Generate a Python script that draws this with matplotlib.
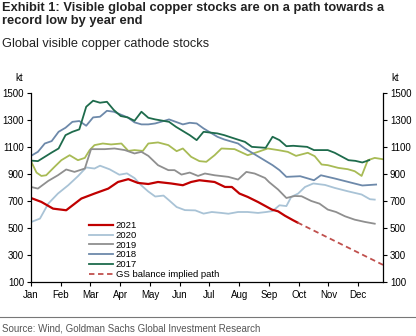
import matplotlib
matplotlib.use("Agg")
import matplotlib.pyplot as plt
import numpy as np

plt.rcParams['font.family'] = ['Liberation Sans', 'DejaVu Sans']

# week of year (0 = first week of Jan) and stocks in kt
wk_2021 = [0.0, 1.5, 3.2, 5.1, 7.3, 9.2, 11.2, 12.6, 14.1, 15.5, 17.0, 18.4, 20.3, 22.0,
           23.2, 24.4, 26.6, 28.1, 29.1, 30.2, 31.4, 32.9, 34.9, 35.8, 36.8, 38.0, 38.6]
kt_2021 = [722, 693, 643, 631, 718, 755, 792, 841, 862, 834, 826, 841, 830, 817,
           841, 854, 841, 804, 804, 755, 730, 692, 636, 623, 590, 556, 540]

wk_path = [38.6, 51.0]
kt_path = [540, 225]

wk_2020 = [0.0, 1.3, 2.5, 3.9, 5.4, 6.8, 8.0, 9.2, 10.0, 11.4, 12.8, 13.9, 15.0, 16.0,
           17.0, 18.0, 19.2, 20.0, 21.1, 22.3, 23.8, 25.0, 26.2, 27.6, 28.6, 30.0, 31.4,
           32.9, 34.1, 35.0, 36.0, 37.0, 37.7, 38.7, 39.7, 40.9, 42.6, 44.0, 45.9, 47.9,
           49.1, 49.8]
kt_2020 = [543, 569, 680, 755, 817, 884, 949, 941, 962, 935, 895, 905, 870, 815,
           770, 733, 740, 705, 655, 632, 630, 606, 618, 611, 605, 618, 618,
           611, 618, 625, 668, 662, 730, 755, 804, 830, 819, 797, 772, 748,
           713, 710]

wk_2019 = [0.0, 1.0, 2.5, 3.9, 5.1, 6.3, 7.8, 8.7, 10.7, 12.1, 13.6, 15.0, 16.0, 17.0,
           18.4, 19.9, 20.8, 21.8, 23.0, 24.2, 25.2, 26.6, 28.6, 30.0, 31.2, 32.4, 33.9,
           34.5, 35.8, 37.0, 38.2, 39.2, 40.6, 41.8, 43.0, 44.2, 45.5, 46.9, 48.4, 49.8]
kt_2019 = [804, 792, 849, 891, 934, 916, 941, 1085, 1085, 1090, 1078, 1053, 1065, 1035,
           966, 929, 929, 896, 911, 886, 904, 891, 879, 859, 916, 904, 871,
           840, 785, 722, 737, 735, 700, 680, 636, 618, 586, 561, 544, 531]

wk_2018 = [0, 1, 2, 3, 4, 5, 6, 7, 8, 9, 10, 11, 12, 14, 15, 16, 17, 18, 20, 22, 23, 24,
           25, 27, 28, 30, 31, 33, 35, 36, 37, 39, 41, 42, 44, 46, 48, 50]
kt_2018 = [1035, 1065, 1127, 1145, 1214, 1244, 1288, 1294, 1259, 1321, 1326, 1370, 1363,
           1321, 1284, 1269, 1269, 1276, 1306, 1269, 1281, 1276, 1239, 1177, 1157, 1127,
           1090, 1028, 966, 929, 879, 884, 854, 891, 867, 841, 815, 822]

wk_2017 = [0, 1, 3, 4, 5, 6, 7, 8, 9, 10, 11, 12, 13, 14, 15, 16, 17, 18, 20, 21, 23, 24,
           25, 27, 28, 29, 31, 32, 34, 35, 36, 37, 38, 40, 41, 43, 44, 46, 47, 48, 49]
kt_2017 = [1000, 996, 1060, 1090, 1189, 1214, 1232, 1400, 1445, 1430, 1437, 1376, 1331,
           1321, 1296, 1363, 1318, 1306, 1288, 1251, 1189, 1152, 1214, 1202, 1189, 1172,
           1139, 1102, 1095, 1177, 1152, 1107, 1110, 1102, 1078, 1078, 1058, 1003, 998,
           986, 1003]

wk_2016 = [0.0, 0.8, 1.5, 2.2, 3.4, 4.4, 5.6, 6.8, 7.8, 8.5, 9.2, 10.4, 11.6, 13.1, 14.1,
           15.0, 16.2, 17.0, 18.4, 19.9, 21.1, 22.0, 23.2, 24.4, 25.4, 26.6, 27.6, 29.5,
           31.4, 32.9, 34.3, 35.8, 37.2, 38.4, 40.1, 41.1, 42.1, 43.0, 44.5, 45.9, 46.9,
           47.9, 48.8, 49.8, 51.0]
kt_2016 = [996, 911, 886, 891, 953, 1003, 1040, 1003, 1020, 1078, 1115, 1127, 1120, 1127,
           1072, 1078, 1072, 1127, 1135, 1115, 1070, 1090, 1028, 996, 991, 1040, 1090,
           1085, 1040, 1065, 1090, 1078, 1065, 1035, 1058, 1033, 971, 966, 946, 936, 921,
           886, 1003, 1020, 1010]

months = ['Jan', 'Feb', 'Mar', 'Apr', 'May', 'Jun', 'Jul', 'Aug', 'Sep', 'Oct', 'Nov', 'Dec']
y_ticks = [100, 300, 500, 700, 900, 1100, 1300, 1500]

fig = plt.figure(figsize=(4.16, 3.36), dpi=100)
ax = fig.add_axes([0.0745, 0.1616, 0.8462, 0.5607])

ax.plot(wk_2016, kt_2016, color='#a8bb55', lw=1.3)
ax.plot(wk_2020, kt_2020, color='#a9c3d6', lw=1.3, label='2020')
ax.plot(wk_2019, kt_2019, color='#8f8f8f', lw=1.3, label='2019')
ax.plot(wk_2018, kt_2018, color='#6d89aa', lw=1.3, label='2018')
ax.plot(wk_2017, kt_2017, color='#1e6b4c', lw=1.3, label='2017')
ax.plot(wk_2021, kt_2021, color='#c00000', lw=1.6, label='2021')
ax.plot(wk_path, kt_path, color='#c0504d', lw=1.3, ls=(0, (3, 2)),
        label='GS balance implied path')

ax.set_xlim(0, 51)
ax.set_ylim(100, 1500)
ax.set_xticks(np.arange(12) * 4.31)
ax.set_xticklabels(months)
ax.set_yticks(y_ticks)
ax.tick_params(axis='y', which='both', left=True, right=True, labelleft=True,
               labelright=True, length=3, width=0.8, labelsize=7, pad=2)
ax.tick_params(axis='x', length=3, width=0.8, labelsize=7, pad=3)
ax.spines['top'].set_visible(False)
for s in ['left', 'right', 'bottom']:
    ax.spines[s].set_linewidth(0.9)

handles, labels = ax.get_legend_handles_labels()
order = ['2021', '2020', '2019', '2018', '2017', 'GS balance implied path']
hl = dict(zip(labels, handles))
ax.legend([hl[k] for k in order], order, loc='lower left', bbox_to_anchor=(0.145, -0.02),
          frameon=False, fontsize=6.8, handlelength=2.6, handletextpad=0.25,
          labelspacing=0.08, borderpad=0.2)

fig.text(0.036, 0.760, 'kt', fontsize=7)
fig.text(0.942, 0.760, 'kt', fontsize=7)

fig.text(0.006, 0.993, 'Exhibit 1: Visible global copper stocks are on a path towards a\nrecord low by year end',
         fontsize=9.3, fontweight='bold', va='top', color='#222222', linespacing=1.1)
fig.text(0.006, 0.850, 'Global visible copper cathode stocks', fontsize=9.2,
         va='bottom', color='#222222')

fig.add_artist(plt.Line2D([0, 1], [0.057, 0.057], color='#777777', lw=0.8))
fig.text(0.006, 0.008, 'Source: Wind, Goldman Sachs Global Investment Research', fontsize=7,
         color='#555555', va='bottom')

fig.savefig('out.png', dpi=100)
